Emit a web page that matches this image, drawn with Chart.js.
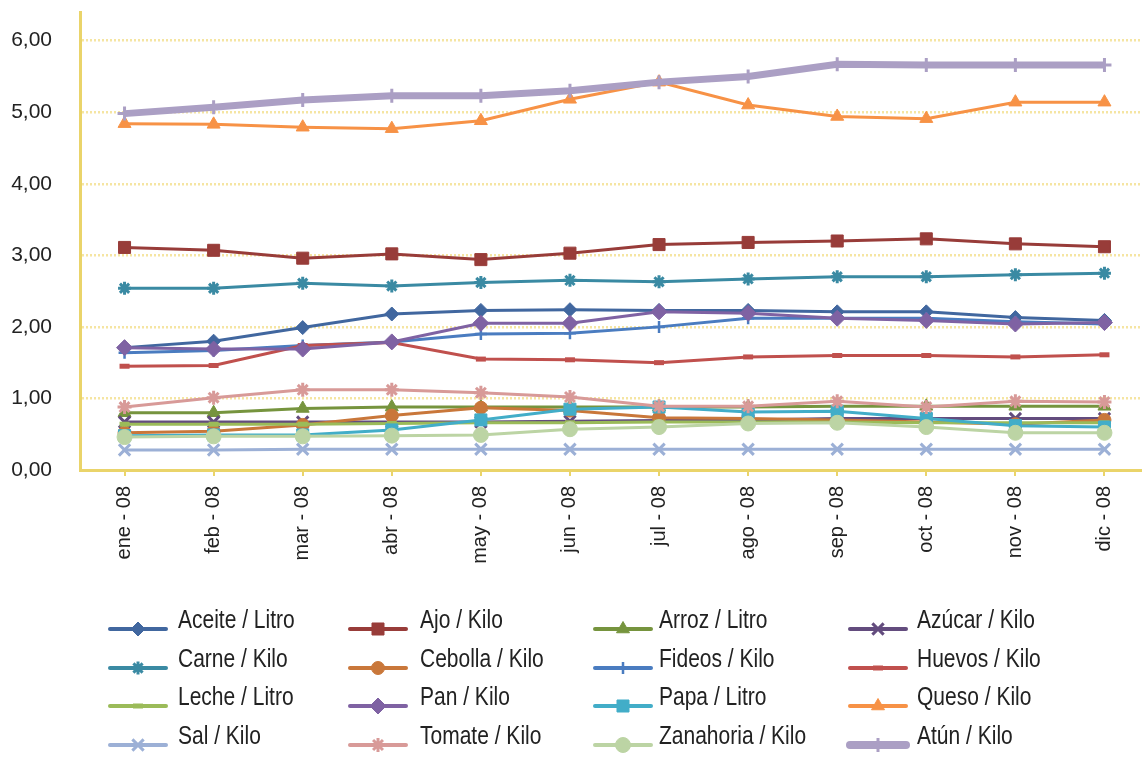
<!DOCTYPE html>
<html>
<head>
<meta charset="utf-8">
<script src="https://cdn.jsdelivr.net/npm/chart.js@4/dist/chart.umd.min.js"></script>
<style>
    html, body { margin: 0; padding: 0; background: #fff; overflow: hidden; }
    #wrap { width: 1160px; height: 758px; }
</style>
</head>
<body>
<div id="wrap"><canvas id="priceChart" width="1160" height="758"></canvas></div>
<script>
const months = ['ene - 08', 'feb - 08', 'mar - 08', 'abr - 08', 'may - 08', 'jun - 08',
                'jul - 08', 'ago - 08', 'sep - 08', 'oct - 08', 'nov - 08', 'dic - 08'];

const seriesNames = ['Aceite / Litro', 'Ajo / Kilo', 'Arroz / Litro', 'Azúcar / Kilo',
                     'Carne / Kilo', 'Cebolla / Kilo', 'Fideos / Kilo', 'Huevos / Kilo',
                     'Leche / Litro', 'Pan / Kilo', 'Papa / Litro', 'Queso / Kilo',
                     'Sal / Kilo', 'Tomate / Kilo', 'Zanahoria / Kilo', 'Atún / Kilo'];

const aceite    = [1.71, 1.80, 1.99, 2.18, 2.23, 2.24, 2.23, 2.23, 2.21, 2.21, 2.13, 2.09];
const ajo       = [3.11, 3.07, 2.96, 3.02, 2.94, 3.03, 3.15, 3.18, 3.20, 3.23, 3.16, 3.12];
const arroz     = [0.80, 0.80, 0.86, 0.88, 0.88, 0.88, 0.88, 0.88, 0.89, 0.89, 0.89, 0.89];
const azucar    = [0.67, 0.67, 0.67, 0.67, 0.67, 0.68, 0.69, 0.70, 0.72, 0.72, 0.72, 0.72];
const carne     = [2.54, 2.54, 2.61, 2.57, 2.62, 2.65, 2.63, 2.67, 2.70, 2.70, 2.73, 2.75];
const cebolla   = [0.52, 0.54, 0.63, 0.76, 0.87, 0.83, 0.73, 0.72, 0.70, 0.67, 0.64, 0.70];
const fideos    = [1.64, 1.67, 1.74, 1.79, 1.90, 1.91, 2.00, 2.12, 2.12, 2.12, 2.07, 2.04];
const huevos    = [1.45, 1.46, 1.74, 1.78, 1.55, 1.54, 1.50, 1.58, 1.60, 1.60, 1.58, 1.61];
const leche     = [0.64, 0.64, 0.64, 0.65, 0.66, 0.66, 0.67, 0.67, 0.67, 0.66, 0.66, 0.66];
const pan       = [1.71, 1.69, 1.69, 1.79, 2.05, 2.05, 2.21, 2.19, 2.12, 2.09, 2.04, 2.06];
const papa      = [0.48, 0.49, 0.49, 0.56, 0.70, 0.85, 0.88, 0.81, 0.82, 0.72, 0.62, 0.60];
const queso     = [4.84, 4.83, 4.79, 4.77, 4.88, 5.18, 5.42, 5.10, 4.94, 4.91, 5.14, 5.14];
const sal       = [0.28, 0.28, 0.29, 0.29, 0.29, 0.29, 0.29, 0.29, 0.29, 0.29, 0.29, 0.29];
const tomate    = [0.88, 1.01, 1.12, 1.12, 1.08, 1.02, 0.89, 0.89, 0.96, 0.88, 0.96, 0.95];
const zanahoria = [0.46, 0.47, 0.47, 0.48, 0.49, 0.57, 0.60, 0.65, 0.66, 0.60, 0.52, 0.52];
const atun      = [4.98, 5.07, 5.17, 5.23, 5.23, 5.30, 5.42, 5.50, 5.67, 5.66, 5.66, 5.66];

const seriesValues = [aceite, ajo, arroz, azucar, carne, cebolla, fideos, huevos,
                      leche, pan, papa, queso, sal, tomate, zanahoria, atun];

// line colour, marker shape, marker radius, marker stroke, line width
const seriesStyles = [
    { color: '#41679f', point: 'rectRot',  r: 7,   pw: 1, lw: 3 },
    { color: '#983c39', point: 'rect',     r: 8.5, pw: 1, lw: 3 },
    { color: '#76943e', point: 'triangle', r: 7.5, pw: 1, lw: 3 },
    { color: '#634c7e', point: 'crossRot', r: 8,   pw: 3, lw: 3 },
    { color: '#3a8aa3', point: 'star',     r: 6.5, pw: 3, lw: 3 },
    { color: '#c9773a', point: 'circle',   r: 6.5, pw: 1, lw: 3 },
    { color: '#4a7cc0', point: 'cross',    r: 6,   pw: 2.5, lw: 3 },
    { color: '#c0504d', point: 'line',     r: 5,   pw: 5, lw: 3 },
    { color: '#9bbb59', point: 'line',     r: 5,   pw: 5, lw: 3 },
    { color: '#7f62a3', point: 'rectRot',  r: 8,   pw: 1, lw: 3 },
    { color: '#42adc8', point: 'rect',     r: 8.5, pw: 1, lw: 3 },
    { color: '#f79246', point: 'triangle', r: 7.5, pw: 1, lw: 3 },
    { color: '#9cb0d6', point: 'crossRot', r: 8,   pw: 3, lw: 3 },
    { color: '#d89a98', point: 'star',     r: 7,   pw: 3, lw: 3 },
    { color: '#bcd4a4', point: 'circle',   r: 7.5, pw: 1, lw: 3 },
    { color: '#ab9fc4', point: 'cross',    r: 7,   pw: 3, lw: 7 }
];

const FONT = "'Liberation Sans', Arial, sans-serif";
const axisYellow = '#ead46a';

const legendLineX = [110, 350, 595, 850];
const legendTextX = [178, 420, 659, 917];
const legendRowY = [629, 668, 706, 745];

const datasets = seriesNames.map(function(name, i) {
    const s = seriesStyles[i];
    return {
        label: name,
        data: seriesValues[i],
        borderColor: s.color,
        backgroundColor: s.color,
        borderWidth: s.lw,
        pointStyle: s.point,
        pointRadius: s.r,
        pointHoverRadius: s.r,
        pointBorderWidth: s.pw,
        pointBackgroundColor: s.color,
        pointBorderColor: s.color,
        tension: 0,
        order: seriesNames.length - i
    };
});

// 4-column legend below the axis, text squeezed to look like a narrow font
const gridLegend = {
    id: 'gridLegend',
    afterDraw(chart) {
        const ctx = chart.ctx;
        chart.data.datasets.forEach(function(ds, i) {
            const col = i % 4;
            const row = Math.floor(i / 4);
            const x0 = legendLineX[col];
            const y = legendRowY[row];
            ctx.save();
            ctx.strokeStyle = ds.borderColor;
            ctx.lineWidth = ds.borderWidth + 1;
            ctx.lineCap = 'round';
            ctx.beginPath();
            ctx.moveTo(x0, y);
            ctx.lineTo(x0 + 56, y);
            ctx.stroke();
            ctx.lineCap = 'butt';
            ctx.fillStyle = ds.pointBackgroundColor;
            ctx.strokeStyle = ds.pointBorderColor;
            ctx.lineWidth = ds.pointBorderWidth;
            Chart.helpers.drawPoint(ctx, {
                pointStyle: ds.pointStyle,
                radius: ds.pointRadius,
                borderWidth: ds.pointBorderWidth,
                rotation: 0
            }, x0 + 28, y);
            ctx.translate(legendTextX[col], y - 1);
            ctx.scale(0.84, 1);
            ctx.fillStyle = '#222';
            ctx.font = '25px ' + FONT;
            ctx.textBaseline = 'alphabetic';
            ctx.textAlign = 'left';
            ctx.fillText(ds.label, 0, 0);
            ctx.restore();
        });
    }
};

new Chart(document.getElementById('priceChart').getContext('2d'), {
    type: 'line',
    data: {
        labels: months,
        datasets: datasets
    },
    options: {
        responsive: false,
        animation: false,
        devicePixelRatio: 1,
        layout: {
            padding: { top: 12, right: 4, bottom: 178, left: 0 }
        },
        plugins: {
            legend: { display: false },
            tooltip: { enabled: false }
        },
        scales: {
            x: {
                type: 'category',
                offset: true,
                grid: {
                    display: true,
                    drawOnChartArea: false,
                    drawTicks: true,
                    tickLength: 6,
                    color: axisYellow,
                    lineWidth: 2
                },
                border: { color: axisYellow, width: 3 },
                ticks: {
                    minRotation: 90,
                    maxRotation: 90,
                    autoSkip: false,
                    padding: 10,
                    color: '#222',
                    font: { family: FONT, size: 20 }
                },
                afterFit(scale) {
                    scale.height = 110;
                    scale.paddingLeft = 0;
                    scale.paddingRight = 0;
                }
            },
            y: {
                min: 0,
                max: 6.4,
                grid: {
                    color: 'rgba(238, 212, 100, 0.6)',
                    lineWidth: 2.5,
                    drawTicks: false
                },
                border: { color: axisYellow, width: 3, dash: [2, 2] },
                ticks: {
                    stepSize: 1,
                    includeBounds: false,
                    padding: 28,
                    color: '#222',
                    font: { family: FONT, size: 21 },
                    callback: function(v) {
                        return v.toFixed(2).replace('.', ',');
                    }
                },
                afterFit(scale) {
                    scale.width = 80;
                    scale.paddingTop = 0;
                    scale.paddingBottom = 0;
                }
            }
        }
    },
    plugins: [gridLegend]
});
</script>
</body>
</html>
